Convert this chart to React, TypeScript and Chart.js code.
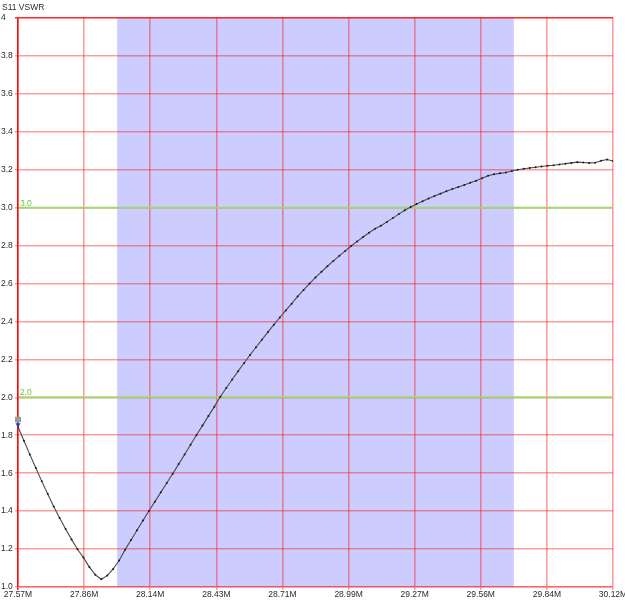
import React, { useEffect, useRef } from "react";
import { Chart, registerables } from "chart.js";

Chart.register(...registerables);

const chartTitle = "S11 VSWR";
const sweepStartMHz = 27.575;
const sweepStopMHz = 30.125;
const xTickLabels = ["27.57M", "27.86M", "28.14M", "28.43M", "28.71M", "28.99M", "29.27M", "29.56M", "29.84M", "30.12M"];
const yTickLabels = ["1.0", "1.2", "1.4", "1.6", "1.8", "2.0", "2.2", "2.4", "2.6", "2.8", "3.0", "3.2", "3.4", "3.6", "3.8", "4"];
const yMin = 1.0;
const yMax = 4.0;
const yStep = 0.2;
const bandStartMHz = 28.0;
const bandEndMHz = 29.7;
const limitValues = [3.0, 2.0];
const limitLabels = ["3.0", "2.0"];

const vswr = [
  1.845, 1.771, 1.698, 1.627, 1.557, 1.490, 1.425, 1.364, 1.306, 1.251,
  1.199, 1.155, 1.105, 1.064, 1.041, 1.060, 1.095, 1.140, 1.197, 1.248,
  1.299, 1.350, 1.401, 1.450, 1.499, 1.548, 1.597, 1.648, 1.699, 1.750,
  1.801, 1.851, 1.901, 1.951, 2.003, 2.049, 2.094, 2.138, 2.181, 2.223,
  2.264, 2.304, 2.344, 2.383, 2.421, 2.458, 2.494, 2.532, 2.566, 2.600,
  2.632, 2.662, 2.691, 2.719, 2.746, 2.772, 2.798, 2.822, 2.845, 2.868,
  2.889, 2.905, 2.925, 2.945, 2.966, 2.986, 3.004, 3.019, 3.034, 3.048,
  3.061, 3.074, 3.086, 3.098, 3.109, 3.120, 3.131, 3.142, 3.155, 3.168,
  3.176, 3.181, 3.185, 3.193, 3.200, 3.205, 3.209, 3.213, 3.217, 3.221,
  3.224, 3.228, 3.232, 3.236, 3.240, 3.238, 3.236, 3.237, 3.247, 3.254,
  3.246,
];

const freqMHz = vswr.map(
  (_, i) => sweepStartMHz + (i * (sweepStopMHz - sweepStartMHz)) / (vswr.length - 1)
);

const FONT_FAMILY = "'Liberation Sans', Arial, sans-serif";
const FONT = `8.5px ${FONT_FAMILY}`;
const TEXT_COLOR = "#2a2a2a";
const GRID = "rgba(255,20,20,0.42)";
const GRID_STRONG = "rgba(255,0,0,0.85)";

const overlayPlugin = {
  id: "vswrOverlay",
  beforeDraw(chart: any) {
    const { ctx, chartArea, scales } = chart;
    const x1 = scales.x.getPixelForValue(bandStartMHz);
    const x2 = scales.x.getPixelForValue(bandEndMHz);
    ctx.save();
    ctx.fillStyle = "#ccccff";
    ctx.fillRect(x1, chartArea.top, x2 - x1, chartArea.bottom - chartArea.top);
    ctx.restore();
  },
  beforeDatasetsDraw(chart: any) {
    const { ctx, chartArea, scales } = chart;
    ctx.save();
    limitValues.forEach((v, k) => {
      const y = scales.y.getPixelForValue(v);
      ctx.strokeStyle = "rgb(160,215,115)";
      ctx.lineWidth = 2;
      ctx.beginPath();
      ctx.moveTo(chartArea.left + 1, y);
      ctx.lineTo(chartArea.right, y);
      ctx.stroke();
      ctx.fillStyle = "rgb(115,195,55)";
      ctx.font = FONT;
      ctx.textAlign = "left";
      ctx.textBaseline = "alphabetic";
      ctx.fillText(limitLabels[k], chartArea.left + 2, y - 2);
    });
    ctx.restore();
  },
  afterDraw(chart: any) {
    const { ctx } = chart;
    ctx.save();
    ctx.fillStyle = TEXT_COLOR;
    ctx.font = FONT;
    ctx.textAlign = "left";
    ctx.textBaseline = "middle";
    ctx.fillText(chartTitle, 2, 7.5);
    const meta = chart.getDatasetMeta(0);
    const p = meta.data[0];
    if (p) {
      ctx.fillStyle = "rgb(150,158,140)";
      ctx.fillRect(p.x - 3, p.y - 10, 6, 5.5);
      ctx.fillStyle = "#1a3fd6";
      ctx.beginPath();
      ctx.moveTo(p.x - 2.5, p.y - 3.5);
      ctx.lineTo(p.x + 2.5, p.y - 3.5);
      ctx.lineTo(p.x, p.y + 1);
      ctx.closePath();
      ctx.fill();
    }
    ctx.restore();
  },
};

export default function App() {
  const canvasRef = useRef<HTMLCanvasElement | null>(null);

  useEffect(() => {
    if (!canvasRef.current) return;
    const chart = new Chart(canvasRef.current, {
      type: "line",
      data: {
        datasets: [
          {
            data: freqMHz.map((f, i) => ({ x: f, y: vswr[i] })),
            borderColor: "#4a4a4a",
            borderWidth: 1.1,
            pointRadius: 1,
            pointBackgroundColor: "#1a1a1a",
            pointBorderWidth: 0,
            tension: 0,
          },
        ],
      },
      options: {
        animation: false,
        responsive: false,
        devicePixelRatio: 1,
        layout: { padding: { left: 1, right: 12, top: 18, bottom: 0 } },
        plugins: { legend: { display: false }, tooltip: { enabled: false } },
        scales: {
          x: {
            type: "linear",
            min: sweepStartMHz,
            max: sweepStopMHz,
            afterBuildTicks: (scale: any) => {
              scale.ticks = xTickLabels.map((_, k) => ({
                value: sweepStartMHz + (k * (sweepStopMHz - sweepStartMHz)) / (xTickLabels.length - 1),
              }));
            },
            afterFit: (scale: any) => {
              scale.height = 13;
              scale.paddingLeft = 0;
              scale.paddingRight = 0;
            },
            ticks: {
              autoSkip: false,
              maxRotation: 0,
              padding: 0,
              color: TEXT_COLOR,
              font: { family: FONT_FAMILY, size: 8.5 },
              callback: (_v: any, idx: number) => xTickLabels[idx],
            },
            grid: {
              color: (c: any) => (c.index === 0 ? GRID_STRONG : GRID),
              lineWidth: 1.6,
              drawTicks: true,
              tickLength: 3,
            },
            border: { color: GRID, width: 1.6 },
          },
          y: {
            type: "linear",
            min: yMin,
            max: yMax,
            afterBuildTicks: (scale: any) => {
              scale.ticks = yTickLabels.map((_, k) => ({ value: yMin + k * yStep }));
            },
            afterFit: (scale: any) => {
              scale.width = 17;
              scale.paddingTop = 0;
              scale.paddingBottom = 0;
            },
            ticks: {
              autoSkip: false,
              crossAlign: "far",
              padding: 0,
              color: TEXT_COLOR,
              font: { family: FONT_FAMILY, size: 8.5 },
              callback: (_v: any, idx: number) => yTickLabels[idx],
            },
            grid: {
              color: (c: any) => (c.index === yTickLabels.length - 1 ? GRID_STRONG : GRID),
              lineWidth: 1.6,
              drawTicks: true,
              tickLength: 3,
            },
            border: { color: GRID_STRONG, width: 1.3 },
          },
        },
      },
      plugins: [overlayPlugin],
    } as any);
    return () => chart.destroy();
  }, []);

  return (
    <div style={{ position: "fixed", left: 0, top: 0, width: 625, height: 600, overflow: "hidden", background: "#fff" }}>
      <canvas ref={canvasRef} width={625} height={600} style={{ width: 625, height: 600, display: "block" }} />
    </div>
  );
}
